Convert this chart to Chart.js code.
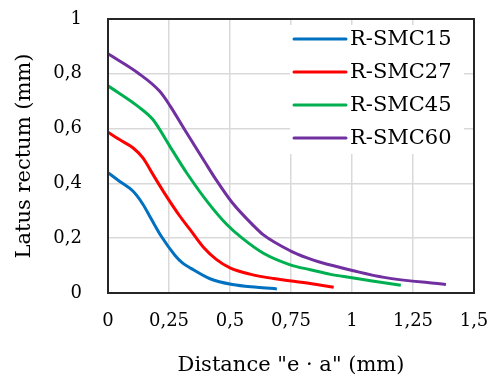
<!DOCTYPE html>
<html>
<head>
<meta charset="utf-8">
<script src="https://cdn.jsdelivr.net/npm/chart.js@4"></script>
<style>
  html, body { margin: 0; padding: 0; background: #fff; }
  #wrap { width: 500px; height: 380px; }
</style>
</head>
<body>
<div id="wrap"><canvas id="chart"></canvas></div>
<script>
// series names and colours
const seriesNames = ['R-SMC15', 'R-SMC27', 'R-SMC45', 'R-SMC60'];
const seriesColors = ['#0070C0', '#FF0000', '#00B050', '#7030A0'];

// distance "e · a" (mm) and latus rectum (mm)
const xSmc15 = [0, 0.047, 0.102, 0.143, 0.178, 0.219, 0.274, 0.305, 0.34, 0.418, 0.51, 0.61, 0.692];
const ySmc15 = [0.439, 0.408, 0.372, 0.324, 0.269, 0.206, 0.138, 0.11, 0.09, 0.052, 0.031, 0.021, 0.015];

const xSmc27 = [0, 0.047, 0.102, 0.143, 0.184, 0.226, 0.294, 0.335, 0.39, 0.445, 0.5, 0.582, 0.678, 0.829, 0.925];
const ySmc27 = [0.587, 0.56, 0.53, 0.493, 0.433, 0.372, 0.281, 0.233, 0.168, 0.122, 0.092, 0.069, 0.053, 0.035, 0.021];

const xSmc45 = [0, 0.123, 0.184, 0.253, 0.322, 0.41, 0.486, 0.55, 0.637, 0.75, 0.829, 0.912, 1.0, 1.076, 1.2];
const ySmc45 = [0.756, 0.681, 0.633, 0.536, 0.439, 0.33, 0.251, 0.2, 0.145, 0.102, 0.085, 0.068, 0.056, 0.045, 0.028];

const xSmc60 = [0, 0.123, 0.212, 0.253, 0.315, 0.397, 0.438, 0.507, 0.596, 0.637, 0.747, 0.816, 0.87, 1.007, 1.131, 1.385];
const ySmc60 = [0.873, 0.803, 0.736, 0.685, 0.595, 0.478, 0.42, 0.332, 0.246, 0.212, 0.154, 0.128, 0.112, 0.081, 0.057, 0.031];

// tick labels (comma decimals)
const xTickValues = [0, 0.25, 0.5, 0.75, 1, 1.25, 1.5];
const xTickLabels = ['0', '0,25', '0,5', '0,75', '1', '1,25', '1,5'];
const yTickValues = [0, 0.2, 0.4, 0.6, 0.8, 1];
const yTickLabels = ['0', '0,2', '0,4', '0,6', '0,8', '1'];

const xs = [xSmc15, xSmc27, xSmc45, xSmc60];
const ys = [ySmc15, ySmc27, ySmc45, ySmc60];

const FONT = "'DejaVu Serif', serif";

function toPoints(xv, yv) {
    return xv.map((x, i) => ({ x: x, y: yv[i] }));
}

const datasets = seriesNames.map((name, i) => ({
    label: name,
    data: toPoints(xs[i], ys[i]),
    borderColor: seriesColors[i],
    backgroundColor: seriesColors[i],
    borderWidth: 3,
    pointRadius: 0,
    fill: false,
    cubicInterpolationMode: 'monotone'
}));

// frame round the plot area
const framePlugin = {
    id: 'frame',
    afterDraw(chart) {
        const a = chart.chartArea;
        const ctx = chart.ctx;
        ctx.save();
        ctx.strokeStyle = '#262626';
        ctx.lineWidth = 2;
        ctx.strokeRect(a.left, a.top, a.right - a.left, a.bottom - a.top);
        ctx.restore();
    }
};

// legend drawn inside the plot area, top right
const innerLegend = {
    id: 'innerLegend',
    afterDatasetsDraw(chart) {
        const ctx = chart.ctx;
        const a = chart.chartArea;
        const x0 = a.right - 180;
        const y0 = a.top + 20;
        const step = 33;
        ctx.save();
        ctx.fillStyle = '#fff';
        ctx.fillRect(x0 - 4, y0 - 14, 174, step * 3 + 30);
        ctx.font = '21px ' + FONT;
        ctx.textBaseline = 'middle';
        chart.data.datasets.forEach((ds, i) => {
            const y = y0 + i * step;
            ctx.strokeStyle = ds.borderColor;
            ctx.lineWidth = 3;
            ctx.lineCap = 'round';
            ctx.beginPath();
            ctx.moveTo(x0, y);
            ctx.lineTo(x0 + 52, y);
            ctx.stroke();
            ctx.fillStyle = '#000';
            ctx.fillText(ds.label, x0 + 56, y + 1);
        });
        ctx.restore();
    }
};

new Chart(document.getElementById('chart'), {
    type: 'line',
    data: { datasets: datasets },
    options: {
        responsive: true,
        maintainAspectRatio: false,
        animation: false,
        layout: { padding: { top: 19, right: 26, left: 4, bottom: 0 } },
        plugins: {
            legend: { display: false },
            tooltip: { enabled: false }
        },
        scales: {
            x: {
                type: 'linear',
                min: 0,
                max: 1.5,
                afterBuildTicks: (scale) => { scale.ticks = xTickValues.map(v => ({ value: v })); },
                afterFit: (scale) => {
                    scale.height = 87;
                    scale.paddingLeft = 0;
                    scale.paddingRight = 0;
                },
                ticks: {
                    callback: (v, i) => xTickLabels[i],
                    font: { family: FONT, size: 18 },
                    color: '#000',
                    padding: 18,
                    maxRotation: 0
                },
                grid: { color: '#d9d9d9', lineWidth: 1.5, drawTicks: false },
                border: { display: false },
                title: {
                    display: true,
                    text: 'Distance "e · a" (mm)',
                    font: { family: FONT, size: 21 },
                    color: '#000',
                    padding: { top: 8, bottom: 2 }
                }
            },
            y: {
                type: 'linear',
                min: 0,
                max: 1,
                afterBuildTicks: (scale) => { scale.ticks = yTickValues.map(v => ({ value: v })); },
                afterFit: (scale) => {
                    scale.width = 104;
                    scale.paddingTop = 0;
                    scale.paddingBottom = 0;
                },
                ticks: {
                    callback: (v, i) => yTickLabels[i],
                    font: { family: FONT, size: 18 },
                    color: '#000',
                    padding: 26
                },
                grid: { color: '#d9d9d9', lineWidth: 1.5, drawTicks: false },
                border: { display: false },
                title: {
                    display: true,
                    text: 'Latus rectum (mm)',
                    font: { family: FONT, size: 21 },
                    color: '#000',
                    padding: { top: 8, bottom: 0 }
                }
            }
        }
    },
    plugins: [framePlugin, innerLegend]
});
</script>
</body>
</html>
